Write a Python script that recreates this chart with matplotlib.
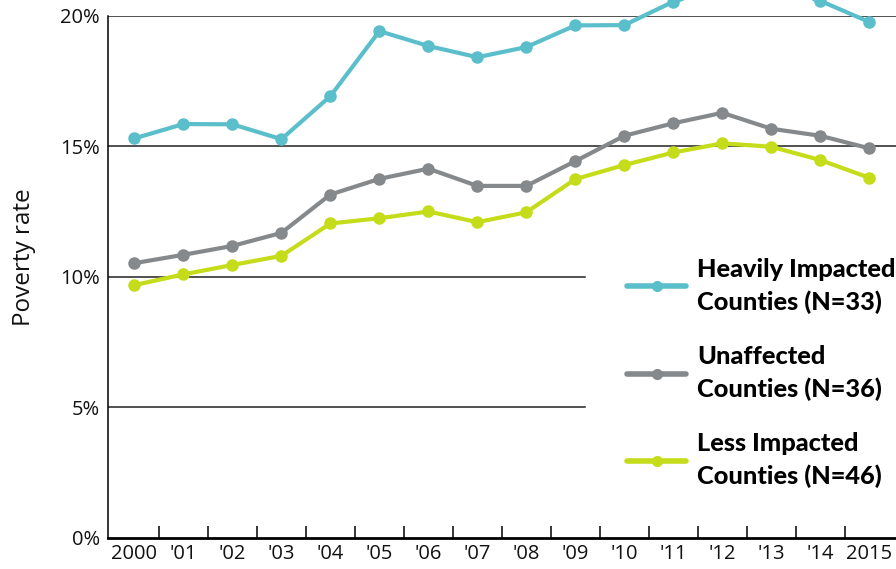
#poverty rate by county impact group, 2000-2015
#heavily impacted line runs above 20% in 2011-2014, so lines are left unclipped

import matplotlib
matplotlib.use("Agg")
import matplotlib.pyplot as plt
from matplotlib.ticker import FixedLocator

years = list(range(2000, 2016))
year_labels = ["2000", "'01", "'02", "'03", "'04", "'05", "'06", "'07",
               "'08", "'09", "'10", "'11", "'12", "'13", "'14", "2015"]

heavily = [15.31, 15.86, 15.85, 15.28, 16.93, 19.42, 18.85, 18.42,
           18.81, 19.64, 19.65, 20.55, 21.1, 21.1, 20.58, 19.77]
unaffected = [10.53, 10.85, 11.19, 11.69, 13.16, 13.76, 14.15, 13.49,
              13.49, 14.44, 15.41, 15.89, 16.29, 15.68, 15.41, 14.93]
less = [9.69, 10.10, 10.46, 10.81, 12.05, 12.25, 12.51, 12.10,
        12.48, 13.75, 14.29, 14.77, 15.12, 14.99, 14.48, 13.80]

series_labels = ["Heavily Impacted\nCounties (N=33)",
                 "Unaffected\nCounties (N=36)",
                 "Less Impacted\nCounties (N=46)"]
colors = ["#5bbfcb", "#86898b", "#c5dc1a"]

y_ticks = [0, 5, 10, 15, 20]

plt.rcParams["font.family"] = ["Open Sans", "DejaVu Sans"]

fig = plt.figure(figsize=(8.96, 5.69), dpi=100)
ax = fig.add_axes([0.1205, 0.0545, 0.8795, 0.9174])

for vals, lab, c in zip([heavily, unaffected, less], series_labels, colors):
    ax.plot(years, vals, color=c, lw=3, marker="o", ms=8, label=lab,
            clip_on=False, solid_capstyle="round", zorder=3)

ax.set_xlim(1999.46, 2015.545)
ax.set_ylim(0, 20)

#gridlines: upper two run full width, lower two stop short of the legend
for y in [20, 15]:
    ax.axhline(y, color="#222222", lw=1.1, zorder=1)
for y in [10, 5]:
    ax.axhline(y, xmax=0.605, color="#222222", lw=1.1, zorder=1)

for s in ["top", "right"]:
    ax.spines[s].set_visible(False)
ax.spines["left"].set_linewidth(1.1)
ax.spines["bottom"].set_linewidth(2)

ax.set_xticks(years)
ax.set_xticklabels(year_labels)
ax.xaxis.set_minor_locator(FixedLocator([y + 0.5 for y in years[:-1]]))
ax.tick_params(axis="x", which="major", length=0, pad=4, labelsize=14.5,
               labelcolor="#111111")
ax.tick_params(axis="x", which="minor", direction="in", length=8.5, width=1.1)

ax.set_yticks(y_ticks)
ax.set_yticklabels([f"{v}%" for v in y_ticks])
ax.tick_params(axis="y", length=0, pad=6, labelsize=14.5, labelcolor="#111111")

ax.set_ylabel("Poverty rate", fontsize=17.5, color="#111111")
ax.yaxis.set_label_coords(-0.091, 0.538)

leg = ax.legend(loc="upper left", bbox_to_anchor=(0.63, 0.58), frameon=False,
                prop={"family": ["Lato", "DejaVu Sans"], "weight": "black",
                      "size": 18.3},
                handlelength=2.3, handletextpad=0.45,
                labelspacing=1.25, numpoints=1)
for t in leg.get_texts():
    t.set_linespacing(1.45)
for h in leg.legend_handles:
    h.set_linewidth(4)
    h.set_markersize(7)

plt.savefig("out.png", dpi=100)
plt.close()
